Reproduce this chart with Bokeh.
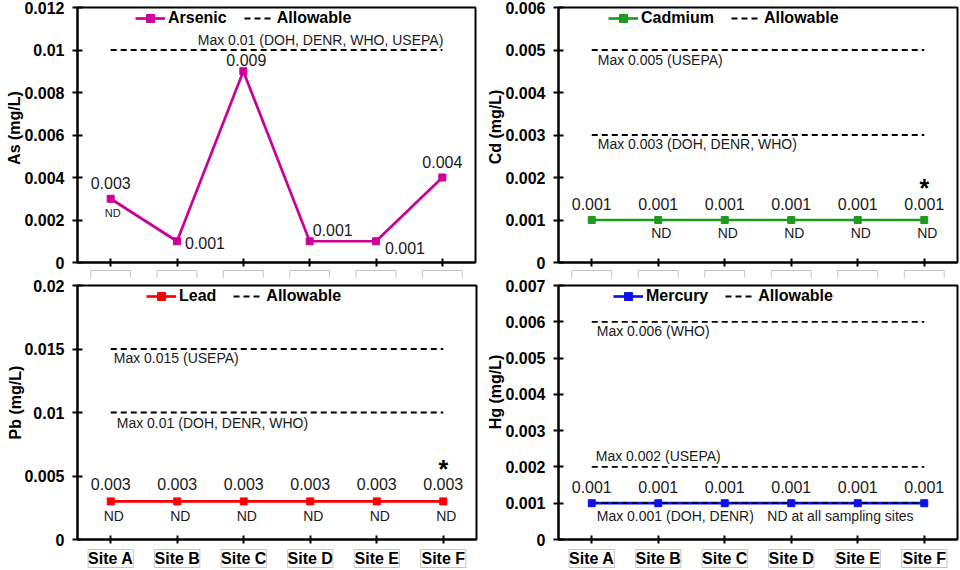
import math

from bokeh.plotting import figure
from bokeh.layouts import gridplot
from bokeh.models import Range1d, FixedTicker, Legend, LegendItem, ColumnDataSource
from bokeh.core.properties import value
from bokeh.embed import file_html
from bokeh.resources import INLINE

# ---- data -----------------------------------------------------------------
sites = ["Site A", "Site B", "Site C", "Site D", "Site E", "Site F"]

arsenic = [0.003, 0.001, 0.009, 0.001, 0.001, 0.004]
cadmium = [0.001, 0.001, 0.001, 0.001, 0.001, 0.001]
lead = [0.003, 0.003, 0.003, 0.003, 0.003, 0.003]
mercury = [0.001, 0.001, 0.001, 0.001, 0.001, 0.001]

arsenic_nd = ["ND", "", "", "", "", ""]
cadmium_nd = ["", "ND", "ND", "ND", "ND", "ND"]
lead_nd = ["ND", "ND", "ND", "ND", "ND", "ND"]
cadmium_mark = ["", "", "", "", "", "*"]
lead_mark = ["", "", "", "", "", "*"]

as_limits = [0.01]
as_limit_text = ["Max 0.01 (DOH, DENR, WHO, USEPA)"]
cd_limits = [0.005, 0.003]
cd_limit_text = ["Max 0.005 (USEPA)", "Max 0.003 (DOH, DENR, WHO)"]
pb_limits = [0.015, 0.01]
pb_limit_text = ["Max 0.015 (USEPA)", "Max 0.01 (DOH, DENR, WHO)"]
hg_limits = [0.006, 0.002, 0.001]
hg_limit_text = ["Max 0.006 (WHO)", "Max 0.002 (USEPA)", "Max 0.001 (DOH, DENR)"]

as_ticks = [0, 0.002, 0.004, 0.006, 0.008, 0.01, 0.012]
as_tick_labels = ["0", "0.002", "0.004", "0.006", "0.008", "0.01", "0.012"]
cd_ticks = [0, 0.001, 0.002, 0.003, 0.004, 0.005, 0.006]
cd_tick_labels = ["0", "0.001", "0.002", "0.003", "0.004", "0.005", "0.006"]
pb_ticks = [0, 0.005, 0.01, 0.015, 0.02]
pb_tick_labels = ["0", "0.005", "0.01", "0.015", "0.02"]
hg_ticks = [0, 0.001, 0.002, 0.003, 0.004, 0.005, 0.006, 0.007]
hg_tick_labels = ["0", "0.001", "0.002", "0.003", "0.004", "0.005", "0.006", "0.007"]

FONT = "Liberation Sans"
TEXT = "#1a1a1a"
BOX = "#c4c4c4"
W = 480


def panel(values, color, name, ylabel, ticks, tick_labels, limits, limit_text,
          limit_anchor, limit_dx, limit_dy, limit_align, value_dx, value_dy,
          nd=None, nd_dx=3, nd_dy=13, nd_size="14px", marks=None,
          legend_left=130, show_sites=False, height=278,
          area=(77, 475, 7, 262), ylabel_pos=(14, 127), box=(8, 30, 0.3)):
    n = len(sites)
    idx = list(range(n))
    L, R, T, B = area                      # plot-area box inside the canvas (px)
    ymax = ticks[-1]
    kx = (R - L) / n                       # px per category
    ky = (B - T) / ymax                    # px per mg/L

    def dx(sx):
        return -0.5 + (sx - L) / kx

    def dy(sy):
        return (B - sy) / ky

    p = figure(width=W, height=height,
               x_range=Range1d(dx(0), dx(W)), y_range=Range1d(dy(height), dy(0)),
               output_backend="svg", toolbar_location=None,
               min_border_left=0, min_border_right=0, min_border_top=0,
               min_border_bottom=0, outline_line_color=None,
               background_fill_color="white", border_fill_color="white")
    p.xgrid.visible = False
    p.ygrid.visible = False

    # axes pinned to the plot-area edges
    xa, ya = p.xaxis[0], p.yaxis[0]
    xa.fixed_location = 0
    xa.bounds = (-0.5, n - 0.5)
    xa.ticker = FixedTicker(ticks=idx, minor_ticks=[])
    xa.major_label_overrides = {i: (s if show_sites else "") for i, s in zip(idx, sites)}
    ya.fixed_location = -0.5
    ya.bounds = (0, ymax)
    ya.ticker = FixedTicker(ticks=ticks, minor_ticks=[])
    ya.major_label_overrides = dict(zip(ticks, tick_labels))
    for ax, tick in ((xa, 4), (ya, 5)):
        ax.axis_line_color = "black"
        ax.axis_line_width = 2
        ax.major_tick_line_color = "black"
        ax.major_tick_line_width = 2
        ax.major_tick_in = tick
        ax.major_tick_out = tick
        ax.minor_tick_line_color = None
        ax.major_label_text_font = FONT
        ax.major_label_text_font_style = "bold"
        ax.major_label_text_font_size = "16px"
        ax.major_label_text_color = "black"
    xa.major_label_standoff = 6
    ya.major_label_standoff = 8

    # thin framed boxes under each category position
    b_top, b_bot, b_half = box
    p.quad(left=[i - b_half for i in idx], right=[i + b_half for i in idx],
           top=dy(B + b_top), bottom=dy(B + b_bot),
           fill_color=None, line_color=BOX, line_width=1)

    # plot-area border
    p.quad(left=-0.5, right=n - 0.5, bottom=0, top=ymax, fill_color=None,
           line_color="black", line_width=2)

    # y-axis title
    p.text(x=[dx(ylabel_pos[0])], y=[dy(ylabel_pos[1])], text=[ylabel], angle=math.pi / 2,
           text_font=value(FONT), text_font_style="bold", text_font_size="16px",
           text_color="black", text_align="center", text_baseline="middle")

    # series
    src = ColumnDataSource(dict(x=idx, y=values,
                                label=[f"{v:g}" for v in values],
                                dx=value_dx, dy=value_dy))
    line_r = p.line("x", "y", source=src, line_color=color, line_width=2.7)

    lim_src = ColumnDataSource(dict(x0=[0] * len(limits), x1=[n - 1] * len(limits),
                                    y=limits, text=limit_text,
                                    xa=[limit_anchor] * len(limits),
                                    dx=limit_dx, dy=limit_dy))
    dash_r = p.segment(x0="x0", y0="y", x1="x1", y1="y", source=lim_src,
                       line_color="black", line_width=1.8, line_dash="6 4")
    mark_r = p.scatter("x", "y", source=src, marker="square", size=7,
                       fill_color=color, line_color=color)

    p.text(x="xa", y="y", text="text", source=lim_src, x_offset="dx", y_offset="dy",
           text_font=value(FONT), text_font_size="14px", text_color=TEXT,
           text_align=limit_align, text_baseline="middle")

    p.text(x="x", y="y", text="label", source=src, x_offset="dx", y_offset="dy",
           text_font=value(FONT), text_font_size="16px", text_color=TEXT,
           text_align="center", text_baseline="middle")

    if nd is not None:
        nd_src = ColumnDataSource(dict(x=idx, y=values, text=nd))
        p.text(x="x", y="y", text="text", source=nd_src, x_offset=nd_dx, y_offset=nd_dy,
               text_font=value(FONT), text_font_size=nd_size, text_color=TEXT,
               text_align="center", text_baseline="middle")
    if marks is not None:
        mk_src = ColumnDataSource(dict(x=idx, y=values, text=marks))
        p.text(x="x", y="y", text="text", source=mk_src, x_offset=0, y_offset=-32,
               text_font=value(FONT), text_font_size="25px", text_font_style="bold",
               text_color="black", text_align="center", text_baseline="middle")

    legend = Legend(items=[LegendItem(label=name, renderers=[line_r, mark_r]),
                           LegendItem(label="Allowable", renderers=[dash_r])],
                    orientation="horizontal",
                    location=(legend_left, height - T - 21), padding=0, margin=0,
                    spacing=17, glyph_width=30, glyph_height=20, label_height=20,
                    label_standoff=3, label_text_font=FONT,
                    label_text_font_style="bold", label_text_font_size="16px",
                    label_text_color="black", background_fill_alpha=0,
                    border_line_color=None)
    p.add_layout(legend)
    return p


p_as = panel(arsenic, "#CC0099", "Arsenic", "As (mg/L)", as_ticks, as_tick_labels,
             as_limits, as_limit_text, 5, [1], [-10], "right",
             [0, 28, 3, 23, 29, 0], [-16, 2, -11, -11, 7, -16],
             nd=arsenic_nd, nd_dx=2, nd_dy=14, nd_size="11px",
             legend_left=135, area=(77, 475, 7, 262), ylabel_pos=(14, 127.5))

p_cd = panel(cadmium, "#1E9B1E", "Cadmium", "Cd (mg/L)", cd_ticks, cd_tick_labels,
             cd_limits, cd_limit_text, 0, [6, 6], [10, 9], "left",
             [0] * 6, [-16] * 6, nd=cadmium_nd, nd_dx=3, nd_dy=13,
             marks=cadmium_mark, legend_left=128, area=(78, 477, 7, 262),
             ylabel_pos=(15, 126.5))

p_pb = panel(lead, "#FF0000", "Lead", "Pb (mg/L)", pb_ticks, pb_tick_labels,
             pb_limits, pb_limit_text, 0, [3, 6], [9, 10], "left",
             [0] * 6, [-17] * 6, nd=lead_nd, nd_dx=3, nd_dy=15,
             marks=lead_mark, legend_left=146, show_sites=True, height=292,
             area=(77, 476, 7, 261), ylabel_pos=(15, 124), box=(10, 28, 0.34))

p_hg = panel(mercury, "#1010E8", "Mercury", "Hg (mg/L)", hg_ticks, hg_tick_labels,
             hg_limits, hg_limit_text, 0, [5, 4, 5], [9, -11, 13], "left",
             [0] * 6, [-16] * 6, legend_left=133, show_sites=True, height=292,
             area=(78, 477, 7, 261), ylabel_pos=(15, 113.5), box=(10, 28, 0.34))
p_hg.text(x=[3.74], y=[mercury[4]], text=["ND at all sampling sites"], x_offset=0,
          y_offset=13, text_font=value(FONT), text_font_size="14px",
          text_color=TEXT, text_align="center", text_baseline="middle")

grid = gridplot([[p_as, p_cd], [p_pb, p_hg]], toolbar_location=None)

open("out.html", "w").write(file_html(grid, INLINE))
